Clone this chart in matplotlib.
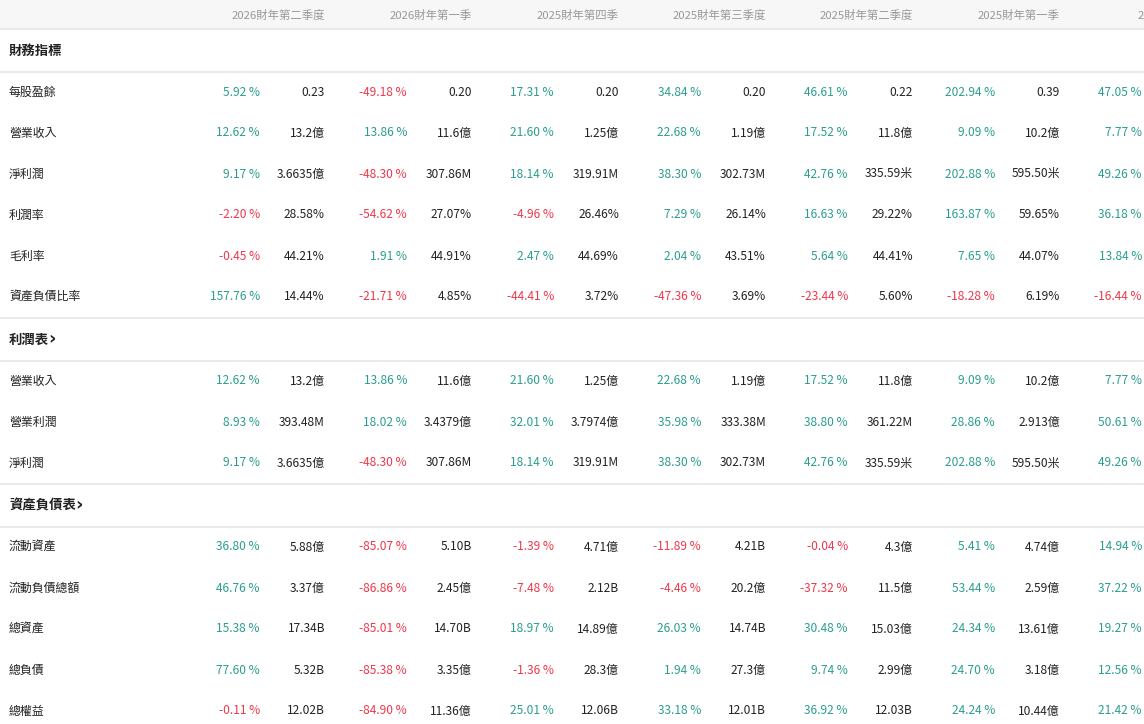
import matplotlib
matplotlib.use("Agg")
import matplotlib.pyplot as plt

plt.rcParams['font.family'] = ['Noto Sans CJK TC', 'DejaVu Sans']

periods = ["2026財年第二季度", "2026財年第一季", "2025財年第四季", "2025財年第三季度",
           "2025財年第二季度", "2025財年第一季", "2024財年第四季"]

sections = ["財務指標", "利潤表", "資產負債表"]
sec_arrow = [False, True, True]
row_labels = [
    ["每股盈餘", "營業收入", "淨利潤", "利潤率", "毛利率", "資產負債比率"],
    ["營業收入", "營業利潤", "淨利潤"],
    ["流動資產", "流動負債總額", "總資產", "總負債", "總權益"],
]

# change % per row, one entry per period
pct = [
    [[5.92, -49.18, 17.31, 34.84, 46.61, 202.94, 47.05],
     [12.62, 13.86, 21.60, 22.68, 17.52, 9.09, 7.77],
     [9.17, -48.30, 18.14, 38.30, 42.76, 202.88, 49.26],
     [-2.20, -54.62, -4.96, 7.29, 16.63, 163.87, 36.18],
     [-0.45, 1.91, 2.47, 2.04, 5.64, 7.65, 13.84],
     [157.76, -21.71, -44.41, -47.36, -23.44, -18.28, -16.44]],
    [[12.62, 13.86, 21.60, 22.68, 17.52, 9.09, 7.77],
     [8.93, 18.02, 32.01, 35.98, 38.80, 28.86, 50.61],
     [9.17, -48.30, 18.14, 38.30, 42.76, 202.88, 49.26]],
    [[36.80, -85.07, -1.39, -11.89, -0.04, 5.41, 14.94],
     [46.76, -86.86, -7.48, -4.46, -37.32, 53.44, 37.22],
     [15.38, -85.01, 18.97, 26.03, 30.48, 24.34, 19.27],
     [77.60, -85.38, -1.36, 1.94, 9.74, 24.70, 12.56],
     [-0.11, -84.90, 25.01, 33.18, 36.92, 24.24, 21.42]],
]
vals = [
    [["0.23", "0.20", "0.20", "0.20", "0.22", "0.39"],
     ["13.2億", "11.6億", "1.25億", "1.19億", "11.8億", "10.2億"],
     ["3.6635億", "307.86M", "319.91M", "302.73M", "335.59米", "595.50米"],
     ["28.58%", "27.07%", "26.46%", "26.14%", "29.22%", "59.65%"],
     ["44.21%", "44.91%", "44.69%", "43.51%", "44.41%", "44.07%"],
     ["14.44%", "4.85%", "3.72%", "3.69%", "5.60%", "6.19%"]],
    [["13.2億", "11.6億", "1.25億", "1.19億", "11.8億", "10.2億"],
     ["393.48M", "3.4379億", "3.7974億", "333.38M", "361.22M", "2.913億"],
     ["3.6635億", "307.86M", "319.91M", "302.73M", "335.59米", "595.50米"]],
    [["5.88億", "5.10B", "4.71億", "4.21B", "4.3億", "4.74億"],
     ["3.37億", "2.45億", "2.12B", "20.2億", "11.5億", "2.59億"],
     ["17.34B", "14.70B", "14.89億", "14.74B", "15.03億", "13.61億"],
     ["5.32B", "3.35億", "28.3億", "27.3億", "2.99億", "3.18億"],
     ["12.02B", "11.36億", "12.06B", "12.01B", "12.03B", "10.44億"]],
]

W, H = 1144, 724
fig = plt.figure(figsize=(W / 100, H / 100), dpi=100)
ax = fig.add_axes([0, 0, 1, 1])
ax.set_xlim(0, W)
ax.set_ylim(H, 0)
ax.axis('off')

GREEN = '#2a9d8f'
RED = '#f0364a'
TXT = '#222222'
GREY = '#999999'
LINE = '#e4e4ea'

# header band
ax.fill_between([0, W], 0, 28, color='#f7f7f7', zorder=0)
ax.plot([0, W], [28.5, 28.5], color=LINE, lw=1.2)
col_w = 147
val_x0 = 325
pct_x0 = 260
for i, p in enumerate(periods):
    xr = val_x0 + i * col_w
    if i == len(periods) - 1:
        xr = 1220
    ax.text(xr, 15, p, ha='right', va='center', fontsize=8.2, color=GREY)

y = 51
for s, sec in enumerate(sections):
    ax.text(9, y, sec, ha='left', va='center', fontsize=9.6, color=TXT, fontweight='bold')
    if sec_arrow[s]:
        ax.text(9 + 13.2 * len(sec), y - 1, "›", ha='left', va='center', fontsize=13,
                color=TXT, fontweight='bold', family='DejaVu Sans')
    ax.plot([0, W], [y + 20.5, y + 20.5], color=LINE, lw=1.2)
    y += 41
    for r, lab in enumerate(row_labels[s]):
        ax.text(9, y, lab, ha='left', va='center', fontsize=8.6, color=TXT)
        for c in range(len(periods)):
            v = pct[s][r][c]
            ax.text(pct_x0 + c * col_w, y, f"{v:.2f} %", ha='right', va='center',
                    fontsize=8.6, color=GREEN if v >= 0 else RED)
        for c, t in enumerate(vals[s][r]):
            ax.text(val_x0 + c * col_w, y, t, ha='right', va='center', fontsize=8.6, color=TXT)
        y += 41
    if s < len(sections) - 1:
        ax.plot([0, W], [y - 20.5, y - 20.5], color=LINE, lw=1.2)
        y += 2

fig.savefig("out.png", dpi=100)
